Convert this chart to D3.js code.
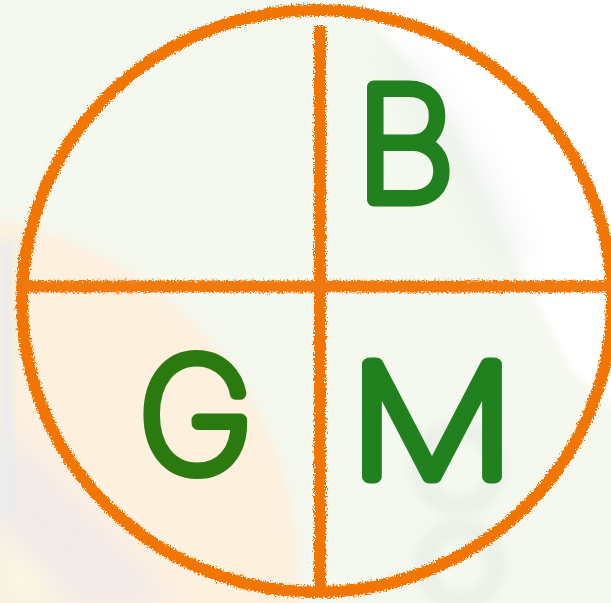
<!DOCTYPE html>
<html>
<head>
<meta charset="utf-8">
<script src="https://cdn.jsdelivr.net/npm/d3@7"></script>
<style>
  html, body { margin: 0; padding: 0; background: #f4f8ee; overflow: hidden; }
  svg { display: block; }
</style>
</head>
<body>
<div id="chart"></div>
<script>
(() => {
  // === data ===
  const letters = ["B", "G", "M"];
  const quadrants = ["top-right", "bottom-left", "bottom-right"];
  const letterColors = ["#22811f", "#2a7a10", "#22811f"];
  // dividing lines, in unit-circle coordinates (x right, y up)
  const crossX = [0.01];
  const crossY = [0.05];

  const width = 611;
  const height = 603;

  // circle geometry
  const cx = 317, cy = 301, rx = 295, ry = 291;
  const x = d3.scaleLinear().domain([-1, 1]).range([cx - rx, cx + rx]);
  const y = d3.scaleLinear().domain([-1, 1]).range([cy + ry, cy - ry]);

  const svg = d3.select("#chart")
    .append("svg")
    .attr("width", width)
    .attr("height", height)
    .attr("viewBox", [0, 0, width, height].join(" "));

  const defs = svg.append("defs");

  // crayon-ish rough edge
  const rough = defs.append("filter").attr("id", "rough")
    .attr("x", "-5%").attr("y", "-5%").attr("width", "110%").attr("height", "110%");
  rough.append("feTurbulence").attr("type", "fractalNoise")
    .attr("baseFrequency", 0.55).attr("numOctaves", 2).attr("seed", 3).attr("result", "noise");
  rough.append("feDisplacementMap").attr("in", "SourceGraphic").attr("in2", "noise")
    .attr("scale", 7).attr("xChannelSelector", "R").attr("yChannelSelector", "G");

  const blur = defs.append("filter").attr("id", "blur")
    .attr("x", "-50%").attr("y", "-50%").attr("width", "200%").attr("height", "200%");
  blur.append("feGaussianBlur").attr("stdDeviation", 14);
  const softBlur = defs.append("filter").attr("id", "softBlur")
    .attr("x", "-50%").attr("y", "-50%").attr("width", "200%").attr("height", "200%");
  softBlur.append("feGaussianBlur").attr("stdDeviation", 5);

  // ---- blurred photo-ish background ----
  const bg = svg.append("g").attr("class", "bg");
  bg.append("rect").attr("width", width).attr("height", height).attr("fill", "#f4f8ee");
  bg.append("circle").attr("cx", -60).attr("cy", 575).attr("r", 358)
    .attr("fill", "#fdf0df").attr("filter", "url(#softBlur)");
  bg.append("path")
    .attr("d", "M0,420 C40,470 120,540 170,603 L0,603 Z")
    .attr("fill", "#f1e9ea").attr("filter", "url(#blur)");
  bg.append("path")
    .attr("d", "M0,530 L70,603 L0,603 Z")
    .attr("fill", "#fcf9e0").attr("filter", "url(#blur)");
  bg.append("path")
    .attr("d", "M0,240 L12,240 L12,520 L0,520 Z")
    .attr("fill", "#e8ecee").attr("filter", "url(#softBlur)");
  bg.append("path")
    .attr("d", "M345,-20 L640,-20 L640,430 L570,370 L510,250 L450,120 L385,35 Z")
    .attr("fill", "#ffffff").attr("filter", "url(#softBlur)");
  bg.append("path")
    .attr("d", "M380,40 L420,60 L490,170 L530,260 L510,270 L470,200 L400,80 Z")
    .attr("fill", "#e4eae6").attr("opacity", 0.5).attr("filter", "url(#blur)");
  // faint ghost shapes behind M
  bg.append("circle").attr("cx", 458).attr("cy", 468).attr("r", 38)
    .attr("fill", "none").attr("stroke", "#e2e7e2").attr("stroke-width", 20).attr("opacity", 0.5)
    .attr("filter", "url(#softBlur)");
  bg.append("circle").attr("cx", 460).attr("cy", 565).attr("r", 36)
    .attr("fill", "none").attr("stroke", "#e2e7e2").attr("stroke-width", 20).attr("opacity", 0.5)
    .attr("filter", "url(#softBlur)");

  // ---- circle and cross ----
  const orange = "#f27400";
  const g = svg.append("g").attr("filter", "url(#rough)");

  g.append("ellipse")
    .attr("cx", x(0)).attr("cy", y(0))
    .attr("rx", x(1) - x(0)).attr("ry", y(0) - y(1))
    .attr("fill", "none")
    .attr("stroke", orange)
    .attr("stroke-width", 12);

  // where the dividers meet the ellipse
  const yAtX = (ux) => Math.sqrt(Math.max(0, 1 - ux * ux));

  g.selectAll("line.v")
    .data(crossX)
    .join("line")
    .attr("class", "v")
    .attr("x1", (d) => x(d)).attr("x2", (d) => x(d))
    .attr("y1", (d) => y(yAtX(d)) + 16)
    .attr("y2", (d) => y(-yAtX(d)) + 4)
    .attr("stroke", orange)
    .attr("stroke-width", 12);

  g.selectAll("line.h")
    .data(crossY)
    .join("line")
    .attr("class", "h")
    .attr("x1", (d) => x(-yAtX(d)))
    .attr("x2", (d) => x(yAtX(d)) + 6)
    .attr("y1", (d) => y(d)).attr("y2", (d) => y(d))
    .attr("stroke", "#f07a10")
    .attr("stroke-width", 12);

  // ---- letters ----
  // baseline anchor per quadrant (unit coords) and horizontal stretch
  const labelAt = {
    "top-right": [0.30, 0.347, 1.0],
    "bottom-left": [-0.41, -0.584, 1.0],
    "bottom-right": [0.39, -0.605, 1.2],
  };

  svg.append("g")
    .selectAll("text")
    .data(letters.map((l, i) => ({ letter: l, quad: quadrants[i], color: letterColors[i] })))
    .join("text")
    .attr("transform", (d) => {
      const [ux, uy, sx] = labelAt[d.quad];
      return `translate(${x(ux)},${y(uy)}) scale(${sx},1)`;
    })
    .attr("text-anchor", "middle")
    .attr("font-family", "Inter, 'DejaVu Sans', sans-serif")
    .attr("font-weight", 100)
    .attr("font-size", 155)
    .attr("fill", (d) => d.color)
    .attr("stroke", (d) => d.color)
    .attr("stroke-width", 13)
    .attr("stroke-linecap", "round")
    .attr("stroke-linejoin", "round")
    .text((d) => d.letter);
})();
</script>
</body>
</html>
